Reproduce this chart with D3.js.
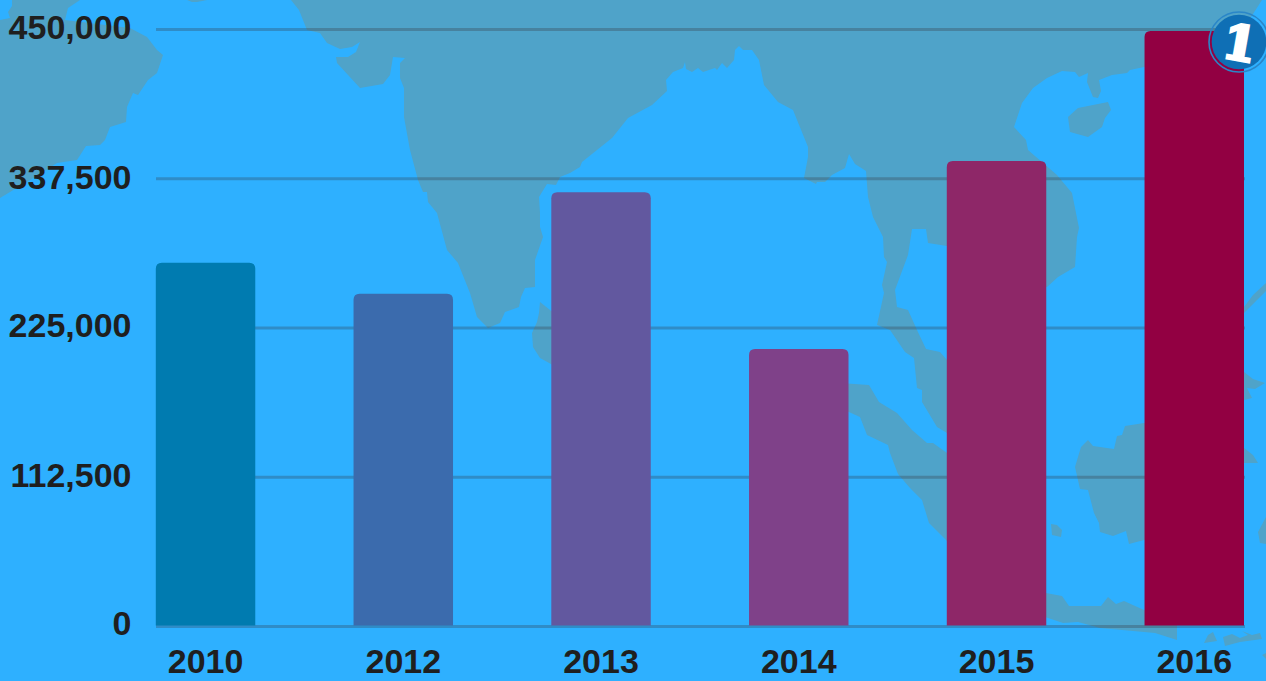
<!DOCTYPE html>
<html>
<head>
<meta charset="utf-8">
<title>Chart</title>
<script src="https://cdn.jsdelivr.net/npm/d3@7"></script>
<style>
    html, body { margin: 0; padding: 0; background: #2eb0ff; overflow: hidden; }
    svg { display: block; }
    text { font-family: "Liberation Sans", Arial, sans-serif; font-weight: bold; }
</style>
</head>
<body>
<svg id="chart" width="1266" height="681"></svg>
<script>
var years = ["2010", "2012", "2013", "2014", "2015", "2016"];
var values = [274200, 250900, 327300, 209200, 350900, 448900];
var barColors = ["#007bb0", "#3b6bad", "#62589f", "#7f4189", "#8e2768", "#920042"];
var yTicks = [0, 112500, 225000, 337500, 450000];

// background map (pixel outlines)
var asia = [[291,0],[299,10],[307,30],[320,33],[327,43],[340,49],[352,47],[360,42],[356,52],[348,57],[336,57],[337,63],[360,88],[383,84],[390,75],[393,57],[405,58],[400,63],[400,78],[404,88],[404,117],[410,150],[418,180],[423,192],[427,192],[428,202],[437,213],[447,250],[458,263],[470,293],[477,317],[488,328],[500,323],[505,312],[519,307],[521,297],[525,288],[535,287],[535,260],[543,237],[540,227],[540,213],[539,197],[547,184],[556,185],[560,177],[570,173],[580,167],[582,162],[612,138],[628,118],[652,105],[667,91],[666,80],[673,72],[683,68],[685,62],[686,69],[692,72],[698,68],[703,72],[715,68],[717,70],[722,63],[727,68],[734,60],[735,50],[739,46],[743,50],[752,50],[759,60],[764,85],[778,102],[793,110],[808,147],[808,157],[804,178],[816,184],[817,182],[825,182],[832,175],[845,168],[849,154],[855,164],[866,171],[868,197],[873,217],[883,237],[884,257],[887,262],[882,285],[884,293],[877,325],[890,330],[905,352],[914,358],[917,388],[922,390],[922,402],[937,427],[947,433],[965,440],[965,365],[947,360],[940,352],[926,349],[917,330],[908,310],[897,307],[895,290],[908,255],[912,229],[926,229],[928,243],[947,246],[1000,300],[1047,287],[1058,277],[1075,267],[1077,237],[1079,228],[1072,193],[1057,175],[1028,150],[1026,140],[1014,127],[1022,103],[1033,88],[1047,78],[1062,71],[1075,72],[1079,77],[1088,73],[1087,82],[1093,97],[1098,98],[1101,91],[1099,80],[1112,75],[1127,73],[1130,70],[1144,67],[1200,60],[1244,28],[1262,0]];
var arabia = [[0,198],[30,180],[57,163],[77,160],[86,146],[100,145],[105,140],[110,127],[126,122],[127,107],[133,93],[138,95],[148,80],[157,73],[163,55],[157,50],[147,37],[130,28],[65,20],[68,8],[80,0],[12,0],[12,6],[8,12],[10,18],[0,20]];
var sriLanka = [[540,302],[560,318],[560,370],[551,364],[540,358],[533,347],[532,333],[537,322],[539,313]];
var sumatra = [[840,383],[869,385],[879,402],[897,413],[912,430],[927,443],[933,443],[947,453],[990,500],[990,570],[947,541],[929,523],[922,500],[910,488],[898,474],[890,453],[888,445],[867,435],[860,417],[840,408]];
var borneo = [[1075,467],[1081,447],[1088,440],[1093,446],[1114,449],[1117,436],[1122,435],[1125,426],[1144,423],[1230,440],[1244,448],[1253,455],[1258,463],[1230,463],[1170,535],[1144,540],[1129,544],[1126,531],[1113,536],[1100,532],[1099,523],[1094,513],[1088,490],[1080,489]];
var hainan = [[1068,117],[1078,108],[1093,105],[1108,102],[1111,110],[1105,118],[1102,127],[1088,137],[1070,132]];
var islet = [[1051,524],[1057,525],[1062,530],[1061,537],[1052,535]];
var java = [[1030,590],[1062,596],[1069,606],[1101,606],[1108,597],[1116,604],[1124,601],[1144,610],[1177,620],[1177,640],[1155,633],[1100,628],[1078,622],[1063,623],[1030,612]];
var lombok = [[1204,643],[1208,635],[1213,632],[1217,641]];
var sumbawa = [[1223,637],[1232,634],[1240,638],[1248,635],[1242,631],[1252,635],[1260,633],[1262,639],[1240,642],[1225,646]];
var flores = [[1262,655],[1266,653],[1266,659]];
var sulawesi = [[1266,517],[1258,532],[1260,543],[1266,544]];
var luzon = [[1230,320],[1244,307],[1253,295],[1266,283],[1266,291],[1257,300],[1244,313]];
var palawan = [[1225,360],[1244,372],[1253,379],[1265,383],[1255,389],[1247,388],[1252,398],[1225,405]];
var topIslet = [[187,0],[192,2],[197,2],[207,0]];
var landShapes = [asia, arabia, sriLanka, sumatra, borneo, hainan, islet, java, lombok, sumbawa, flores, sulawesi, luzon, palawan, topIslet];

var svg = d3.select("#chart");

var x = d3.scaleBand()
    .domain(years)
    .range([155.8, 1244])
    .paddingInner(0.497)
    .paddingOuter(0);

var y = d3.scaleLinear()
    .domain([0, 450000])
    .range([626.5, 29.5]);

// land
var landLine = d3.line().curve(d3.curveLinearClosed);

svg.selectAll("path.land")
    .data(landShapes)
    .enter()
    .append("path")
    .attr("class", "land")
    .attr("d", landLine)
    .attr("fill", "#4fa3c9");

// y axis with gridlines
var yAxis = d3.axisLeft(y)
    .tickValues(yTicks)
    .tickSize(-1089)
    .tickPadding(24.5)
    .offset(0)
    .tickFormat(d3.format(","));

var yG = svg.append("g")
    .attr("transform", "translate(156,0)")
    .call(yAxis);

yG.select(".domain").remove();
yG.selectAll("line")
    .attr("stroke", "rgba(50,40,40,0.26)")
    .attr("stroke-width", 3);
yG.selectAll("text")
    // baselines snap to whole pixels, these two sit a pixel higher
    .attr("dy", function(d) { return (d == 0 || d == 225000) ? 8.9 : 9.9; })
    .attr("fill", "#1f1f1f")
    .style("font-size", "34px");

// x axis
var xAxis = d3.axisBottom(x)
    .tickSize(0)
    .tickPadding(22.6)
    .offset(0);

var xG = svg.append("g")
    .attr("transform", "translate(0,626.5)")
    .call(xAxis);

xG.select(".domain").remove();
xG.selectAll("text")
    .attr("fill", "#1f1f1f")
    .style("font-size", "34px");

// bars, rounded on top only
var barPath = function(d, i) {
    var x0 = x(years[i]);
    var x1 = x0 + x.bandwidth();
    var top = y(d);
    var bottom = y(0) - 1;
    var r = 6;
    return "M" + x0 + "," + bottom +
        "V" + (top + r) +
        "Q" + x0 + "," + top + " " + (x0 + r) + "," + top +
        "H" + (x1 - r) +
        "Q" + x1 + "," + top + " " + x1 + "," + (top + r) +
        "V" + bottom + "Z";
};

svg.selectAll("path.bar")
    .data(values)
    .enter()
    .append("path")
    .attr("class", "bar")
    .attr("d", barPath)
    .attr("fill", function(d, i) { return barColors[i]; });

// the "1" badge in the corner
var badge = svg.append("g")
    .attr("transform", "translate(1239,42)");

badge.append("circle")
    .attr("r", 27.3)
    .attr("fill", "#0f6fb5");

badge.append("circle")
    .attr("r", 30)
    .attr("fill", "none")
    .attr("stroke", "#2a86c8")
    .attr("stroke-width", 1.6);

badge.append("text")
    .attr("transform", "rotate(10)")
    .attr("text-anchor", "middle")
    .attr("x", 1)
    .attr("y", 18)
    .attr("fill", "#fff")
    .attr("stroke", "#fff")
    .attr("stroke-width", 3)
    .style("font-family", "'DejaVu Serif', serif")
    .style("font-size", "48px")
    .text("1");
</script>
</body>
</html>
